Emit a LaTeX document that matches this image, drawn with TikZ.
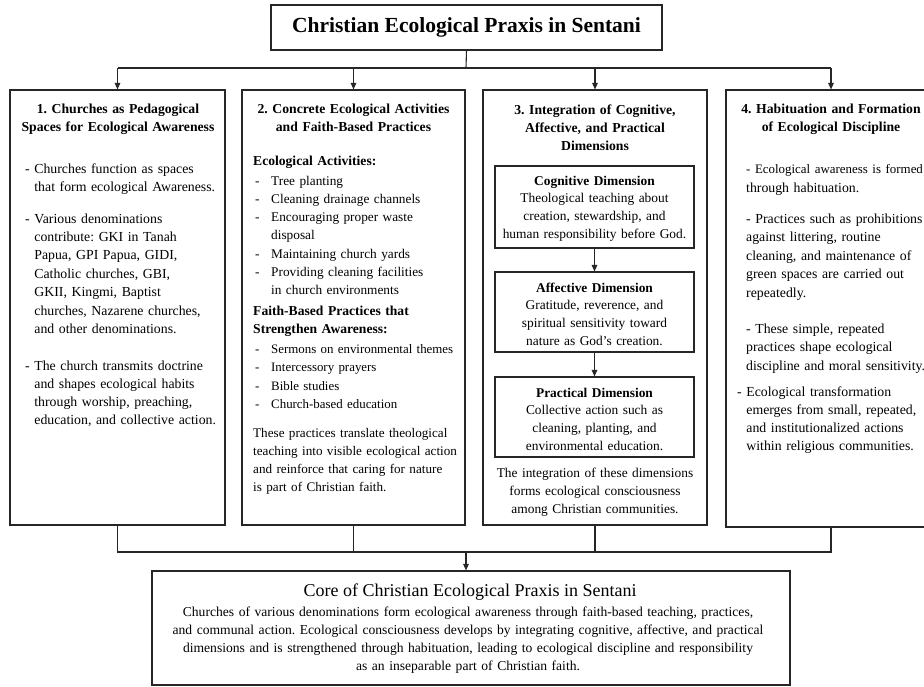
\documentclass[tikz,border=0pt]{standalone}
\usepackage{fontspec}
\setmainfont{Liberation Serif}
\usetikzlibrary{arrows.meta}
\newcommand\myind{\hphantom{-\ }}
\newcommand\mydash{\makebox[16pt][l]{-}}
\frenchspacing
\begin{document}
\frenchspacing
\begin{tikzpicture}[x=1pt,y=-1pt,
  frame/.style={draw=black!85,line width=1.1pt,fill=white,inner sep=0},
  conn/.style={draw=black!85,line width=1.1pt},
  arr/.style={conn,-{Triangle[length=6.5pt,width=5.5pt]}},
  txl/.style={inner sep=0,anchor=base west,align=left,text width=#1,
    font=\fontsize{13.8}{18.4}\selectfont},
  txc/.style={inner sep=0,anchor=base,align=center,text width=#1,
    font=\fontsize{13.4}{17.8}\selectfont},
  hd/.style={inner sep=0,anchor=base,align=center,text width=#1,
    font=\bfseries\fontsize{13.7}{18.8}\selectfont}]
\useasboundingbox[fill=white] (0,0) rectangle (924,686);
% frames
\node[frame,minimum width=391pt,minimum height=45pt,
  font=\bfseries\fontsize{21.5}{24}\selectfont] (title) at (466.5,27.5)
  {Christian Ecological Praxis in Sentani};
\node[frame,minimum width=215pt,minimum height=435pt] (b1) at (117.5,307.5) {};
\node[frame,minimum width=223pt,minimum height=435pt] (b2) at (353.5,307.5) {};
\node[frame,minimum width=224pt,minimum height=435pt] (b3) at (595,307.5) {};
\node[frame,minimum width=210pt,minimum height=437pt] (b4) at (831,308.5) {};
\node[frame,minimum width=199pt,minimum height=82pt] (cog) at (594.5,207) {};
\node[frame,minimum width=199pt,minimum height=80pt] (aff) at (594.5,312) {};
\node[frame,minimum width=199pt,minimum height=80pt] (prac) at (594.5,417) {};
\node[frame,minimum width=638pt,minimum height=114pt] (core) at (471,628) {};
% connectors
\coordinate (hub) at (466,68);
\coordinate (hub2) at (466,552);
\draw[conn] (title.south) -- (hub);
\draw[conn] (b1.north |- hub) -- (b4.north |- hub);
\foreach \b in {b1,b2,b3,b4} \draw[arr] (\b.north |- hub) -- (\b.north);
\draw[conn] (b1.south) -- (b1.south |- hub2) -- (b4.south |- hub2) -- (b4.south);
\draw[conn] (b2.south) -- (b2.south |- hub2);
\draw[conn] (b3.south) -- (b3.south |- hub2);
\draw[arr] (hub2) -- (hub2 |- core.north);
\draw[arr] (cog.south) -- (aff.north);
\draw[arr] (aff.south) -- (prac.north);
% box 1
\node[hd=210pt] (h1) at (118,113) {1. Churches as Pedagogical\\Spaces for Ecological Awareness};
\node[txl=200pt] (p11) at (25,173) {- Churches function as spaces\\\myind that form ecological Awareness.};
\node[txl=200pt] (p12) at (25,223) {- Various denominations\\\myind contribute: GKI in Tanah\\\myind Papua, GPI Papua, GIDI,\\\myind Catholic churches, GBI,\\\myind GKII, Kingmi, Baptist\\\myind churches, Nazarene churches,\\\myind and other denominations.};
\node[txl=200pt,font=\fontsize{13.8}{18}\selectfont] (p13) at (25,370) {- The church transmits doctrine\\\myind and shapes ecological habits\\\myind through worship, preaching,\\\myind education, and collective action.};
% box 2
\node[hd=218pt] (h2) at (353.5,113) {2. Concrete Ecological Activities\\and Faith-Based Practices};
\node[txl=210pt,font=\bfseries\fontsize{13.6}{18.4}\selectfont] (s21) at (253,165) {Ecological Activities:};
\node[txl=210pt,font=\fontsize{13.3}{18.33}\selectfont] (l21) at (255,185) {\mydash Tree planting\\\mydash Cleaning drainage channels\\\mydash Encouraging proper waste\\\hspace*{16pt}disposal\\\mydash Maintaining church yards\\\mydash Providing cleaning facilities\\\hspace*{16pt}in church environments};
\node[txl=210pt,font=\bfseries\fontsize{13.6}{18.4}\selectfont] (s22) at (253,315) {Faith-Based Practices that\\Strengthen Awareness:};
\node[txl=210pt,font=\fontsize{12.9}{18.6}\selectfont] (l22) at (255,353) {\mydash Sermons on environmental themes\\\mydash Intercessory prayers\\\mydash Bible studies\\\mydash Church-based education};
\node[txl=212pt,font=\fontsize{13.15}{18.3}\selectfont] (p21) at (253,437) {These practices translate theological\\teaching into visible ecological action\\and reinforce that caring for nature\\is part of Christian faith.};
% box 3
\node[hd=218pt,font=\bfseries\fontsize{13.7}{18}\selectfont] (h3) at (595,114) {3. Integration of Cognitive,\\Affective, and Practical\\Dimensions};
\node[txc=196pt] (t31) at (594.5,185) {\textbf{Cognitive Dimension}\\Theological teaching about\\creation, stewardship, and\\human responsibility before God.};
\node[txc=196pt] (t32) at (594.5,292) {\textbf{Affective Dimension}\\Gratitude, reverence, and\\spiritual sensitivity toward\\nature as God’s creation.};
\node[txc=196pt] (t33) at (594.5,397) {\textbf{Practical Dimension}\\Collective action such as\\cleaning, planting, and\\environmental education.};
\node[txc=215pt,font=\fontsize{13.4}{18}\selectfont] (t34) at (595,477) {The integration of these dimensions\\forms ecological consciousness\\among Christian communities.};
% box 4
\node[hd=210pt] (h4) at (831,113) {4. Habituation and Formation\\of Ecological Discipline};
\node[txl=200pt,font=\fontsize{13.8}{19}\selectfont] (p41a) at (746,173) {\fontsize{12.9}{19}\selectfont - Ecological awareness is formed};
\node[txl=200pt,font=\fontsize{13.8}{19}\selectfont] (p41b) at (746,192) {through habituation.};
\node[txl=200pt,font=\fontsize{13.8}{18.5}\selectfont] (p42) at (746,223) {- Practices such as prohibitions\\against littering, routine\\cleaning, and maintenance of\\green spaces are carried out\\repeatedly.};
\node[txl=200pt,font=\fontsize{13.8}{18.5}\selectfont] (p43) at (746,333) {- These simple, repeated\\practices shape ecological\\discipline and moral sensitivity.};
\node[txl=200pt,font=\fontsize{13.8}{18}\selectfont] (p44) at (737,396) {- Ecological transformation\\\myind emerges from small, repeated,\\\myind and institutionalized actions\\\myind within religious communities.};
% core
\node[inner sep=0,anchor=base,font=\fontsize{18}{20}\selectfont] (ct) at (470,596) {Core of Christian Ecological Praxis in Sentani};
\node[txc=630pt,font=\fontsize{13.6}{18.3}\selectfont] (cb) at (468,616) {Churches of various denominations form ecological awareness through faith-based teaching, practices,\\and communal action. Ecological consciousness develops by integrating cognitive, affective, and practical\\dimensions and is strengthened through habituation, leading to ecological discipline and responsibility\\as an inseparable part of Christian faith.};
\end{tikzpicture}
\end{document}
